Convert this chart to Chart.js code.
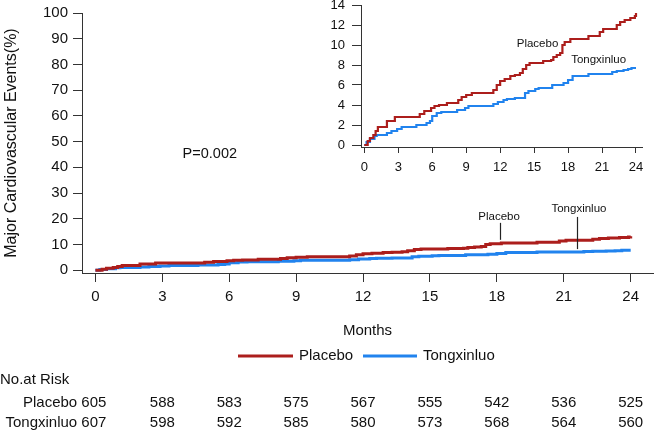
<!DOCTYPE html>
<html>
<head>
<meta charset="utf-8">
<script src="https://cdn.jsdelivr.net/npm/chart.js@4.4.1/dist/chart.umd.min.js"></script>
<style>
  html, body { margin: 0; padding: 0; background: #fff; }
  #wrap { position: relative; width: 664px; height: 432px; overflow: hidden; }
  #mainChart { position: absolute; left: 0; top: 0; }
  #insetChart { position: absolute; left: 320px; top: 0; }
</style>
</head>
<body>
<div id="wrap">
  <canvas id="mainChart" width="664" height="432"></canvas>
  <canvas id="insetChart" width="335" height="185"></canvas>
</div>
<script>
// Cumulative incidence (month at which the step happens -> % after it)
const placeboMonths = [0, 0.3, 0.5, 0.8, 1.0, 1.2, 2.0, 2.7, 4.9, 5.3, 5.9, 6.2, 6.6, 7.3, 8.3, 8.6, 9.0, 9.5,
  11.4, 11.7, 12.0, 12.4, 12.9, 13.3, 13.75, 14.0, 14.3, 14.6, 15.8, 16.5, 16.7, 17.0, 17.3, 17.5, 17.7, 18.2,
  19.8, 20.8, 21.1, 22.3, 22.6, 23.0, 23.5, 23.9, 24.0];
const placeboPct = [0, 0.4, 0.7, 1.0, 1.4, 1.8, 2.4, 2.8, 3.1, 3.4, 3.7, 3.9, 4.0, 4.2, 4.5, 4.8, 5.0, 5.2,
  5.5, 6.0, 6.4, 6.6, 6.9, 7.0, 7.2, 7.6, 8.0, 8.2, 8.4, 8.5, 8.8, 9.0, 9.2, 10.0, 10.3, 10.6,
  10.9, 11.3, 11.6, 12.0, 12.3, 12.5, 12.7, 12.9, 13.2];

const txlMonths = [0, 0.2, 0.5, 0.9, 1.1, 2.0, 2.4, 2.9, 3.3, 4.6, 5.5, 5.8, 6.0, 6.4, 6.8, 8.2, 8.9, 9.2,
  11.4, 11.8, 12.3, 12.6, 13.3, 14.2, 14.5, 15.1, 15.4, 16.6, 17.6, 18.0, 18.4, 19.8, 21.9, 22.3, 22.9,
  23.3, 23.6, 24.0];
const txlPct = [0, 0.3, 0.6, 0.9, 1.0, 1.2, 1.4, 1.6, 1.8, 2.0, 2.2, 2.4, 2.9, 3.2, 3.3, 3.5, 3.7, 3.9,
  4.1, 4.3, 4.5, 4.6, 4.7, 5.2, 5.4, 5.6, 5.7, 6.0, 6.2, 6.5, 6.9, 7.1, 7.3, 7.4, 7.5,
  7.6, 7.7, 7.7];

const monthTicks = [0, 3, 6, 9, 12, 15, 18, 21, 24];
const pctTicks = [0, 10, 20, 30, 40, 50, 60, 70, 80, 90, 100];
const insetPctTicks = [0, 2, 4, 6, 8, 10, 12, 14];

const groupNames = ["Placebo", "Tongxinluo"];
const riskPlacebo = [605, 588, 583, 575, 567, 555, 542, 536, 525];
const riskTongxinluo = [607, 598, 592, 585, 580, 573, 568, 564, 560];

const RED = "#ac1e1c";
const BLUE = "#2183ee";
const AXIS = "#333";
const FONT = "'Liberation Sans', Arial, Helvetica, sans-serif";

Chart.defaults.font.family = FONT;
Chart.defaults.color = "#111";

function toPoints(xs, ys) {
  return xs.map((x, i) => ({ x: x, y: ys[i] }));
}

function fixedTicks(list) {
  return (scale) => {
    scale.ticks = list.map((v) => ({ value: v }));
  };
}

// pin the axis box size and drop the label overflow padding so the plot area is exact
function fixedBox(size) {
  return (scale) => {
    if (scale.isHorizontal()) scale.height = size;
    else scale.width = size;
    scale.paddingTop = 0;
    scale.paddingBottom = 0;
    scale.paddingLeft = 0;
    scale.paddingRight = 0;
  };
}

function kmDatasets(width) {
  return [
    {
      label: groupNames[0],
      data: toPoints(placeboMonths, placeboPct),
      borderColor: RED,
      borderWidth: width,
      stepped: "before",
      pointRadius: 0,
      fill: false
    },
    {
      label: groupNames[1],
      data: toPoints(txlMonths, txlPct),
      borderColor: BLUE,
      borderWidth: width,
      stepped: "before",
      pointRadius: 0,
      fill: false
    }
  ];
}

// text + pointer lines on the main plot, in data units
const mainNotes = [
  { text: "Placebo", x: 18.1, y: 20.7, lineX: 18.15, lineFrom: 11.8, lineTo: 18.4 },
  { text: "Tongxinluo", x: 21.68, y: 23.8, lineX: 21.6, lineFrom: 8.2, lineTo: 20.7 }
];
const insetNotes = [
  { text: "Placebo", x: 15.3, y: 10.1 },
  { text: "Tongxinluo", x: 20.7, y: 8.5 }
];

const mainExtras = {
  id: "mainExtras",
  afterDraw(chart) {
    const { ctx, chartArea } = chart;
    const xs = chart.scales.x;
    const ys = chart.scales.y;
    ctx.save();
    ctx.fillStyle = "#111";
    ctx.textBaseline = "middle";

    // pointer labels
    ctx.font = "11.5px " + FONT;
    ctx.textAlign = "center";
    ctx.strokeStyle = "#222";
    ctx.lineWidth = 1.2;
    mainNotes.forEach((n) => {
      ctx.fillText(n.text, xs.getPixelForValue(n.x), ys.getPixelForValue(n.y));
      const lx = Math.round(xs.getPixelForValue(n.lineX)) + 0.5;
      ctx.beginPath();
      ctx.moveTo(lx, ys.getPixelForValue(n.lineFrom));
      ctx.lineTo(lx, ys.getPixelForValue(n.lineTo));
      ctx.stroke();
    });

    ctx.font = "14.5px " + FONT;
    ctx.fillText("P=0.002", xs.getPixelForValue(5.13), ys.getPixelForValue(45.2));

    ctx.font = "15px " + FONT;
    ctx.fillText("Months", (chartArea.left + chartArea.right) / 2, 331);

    // legend
    const legendY = 356;
    ctx.lineWidth = 3;
    ctx.strokeStyle = RED;
    ctx.beginPath(); ctx.moveTo(238, legendY); ctx.lineTo(293, legendY); ctx.stroke();
    ctx.strokeStyle = BLUE;
    ctx.beginPath(); ctx.moveTo(363, legendY); ctx.lineTo(417, legendY); ctx.stroke();
    ctx.textAlign = "left";
    ctx.fillText(groupNames[0], 299, legendY);
    ctx.fillText(groupNames[1], 423, legendY);

    // number at risk table
    ctx.fillText("No.at Risk", 0, 380);
    const rows = [riskPlacebo, riskTongxinluo];
    const rowY = [403, 423];
    const x0 = xs.getPixelForValue(monthTicks[0]);
    rows.forEach((row, r) => {
      ctx.textAlign = "right";
      ctx.fillText(groupNames[r] + " " + row[0], x0 + 11, rowY[r]);
      ctx.textAlign = "center";
      for (let i = 1; i < row.length; i++) {
        ctx.fillText(String(row[i]), xs.getPixelForValue(monthTicks[i]), rowY[r]);
      }
    });
    ctx.restore();
  }
};

const insetExtras = {
  id: "insetExtras",
  afterDraw(chart) {
    const { ctx } = chart;
    ctx.save();
    ctx.fillStyle = "#111";
    ctx.font = "11.5px " + FONT;
    ctx.textAlign = "center";
    ctx.textBaseline = "middle";
    insetNotes.forEach((n) => {
      ctx.fillText(n.text, chart.scales.x.getPixelForValue(n.x), chart.scales.y.getPixelForValue(n.y));
    });
    ctx.restore();
  }
};

new Chart(document.getElementById("mainChart"), {
  type: "line",
  data: { datasets: kmDatasets(3) },
  options: {
    responsive: false,
    animation: false,
    layout: { padding: { top: 13, right: 11, left: 0, bottom: 0 } },
    plugins: { legend: { display: false }, tooltip: { enabled: false } },
    scales: {
      x: {
        type: "linear",
        min: -0.6,
        max: 25.0,
        afterBuildTicks: fixedTicks(monthTicks),
        afterFit: fixedBox(159),
        grid: { drawOnChartArea: false, drawTicks: true, tickLength: 9, color: AXIS },
        border: { display: true, color: AXIS, width: 1 },
        ticks: { font: { size: 15 }, color: "#111", padding: 6, maxRotation: 0 }
      },
      y: {
        type: "linear",
        min: -1.1,
        max: 100,
        afterBuildTicks: fixedTicks(pctTicks),
        afterFit: fixedBox(82),
        grid: { drawOnChartArea: false, drawTicks: true, tickLength: 9, color: AXIS },
        border: { display: true, color: AXIS, width: 1 },
        ticks: { font: { size: 15 }, color: "#111", padding: 5 },
        title: {
          display: true,
          text: "Major Cardiovascular Events(%)",
          font: { size: 16 },
          color: "#111",
          padding: { top: 2, bottom: 0 }
        }
      }
    }
  },
  plugins: [mainExtras]
});

new Chart(document.getElementById("insetChart"), {
  type: "line",
  data: { datasets: kmDatasets(2.2) },
  options: {
    responsive: false,
    animation: false,
    layout: { padding: { top: 5, right: 13, left: 0, bottom: 0 } },
    plugins: { legend: { display: false }, tooltip: { enabled: false } },
    scales: {
      x: {
        type: "linear",
        min: -0.29,
        max: 24.53,
        afterBuildTicks: fixedTicks(monthTicks),
        afterFit: fixedBox(38),
        grid: { drawOnChartArea: false, drawTicks: true, tickLength: 6, color: AXIS },
        border: { display: true, color: AXIS, width: 1 },
        ticks: { font: { size: 13 }, color: "#111", padding: 7, maxRotation: 0 }
      },
      y: {
        type: "linear",
        min: -0.2,
        max: 14,
        afterBuildTicks: fixedTicks(insetPctTicks),
        afterFit: fixedBox(41),
        grid: { drawOnChartArea: false, drawTicks: true, tickLength: 9, color: AXIS },
        border: { display: true, color: AXIS, width: 1 },
        ticks: { font: { size: 13 }, color: "#111", padding: 7 }
      }
    }
  },
  plugins: [insetExtras]
});
</script>
</body>
</html>
